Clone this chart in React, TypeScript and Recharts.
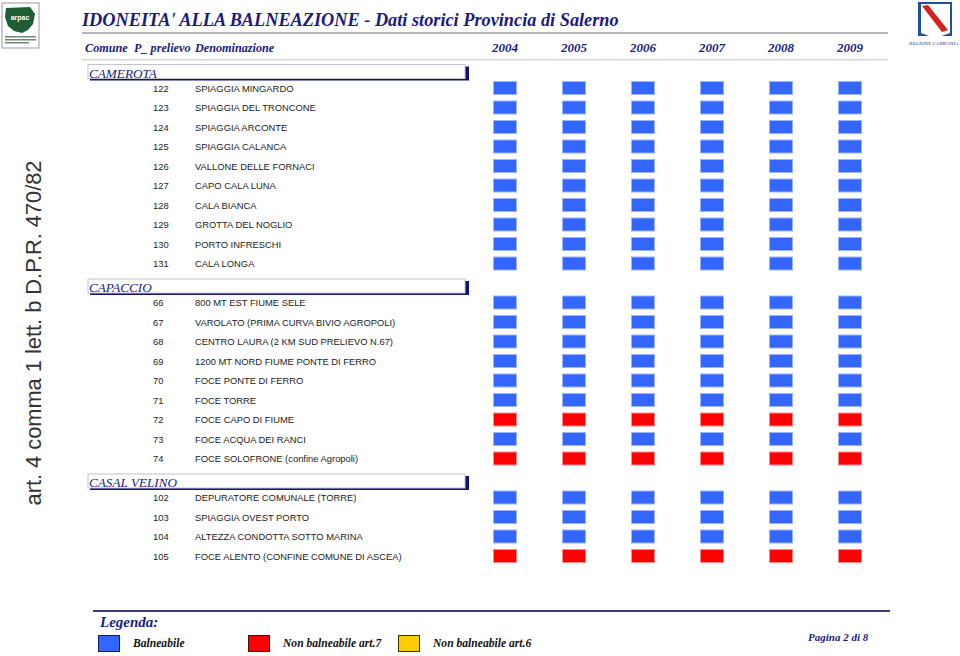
import React from 'react';
import { ScatterChart, Scatter, XAxis, YAxis, Legend } from 'recharts';

const years = ['2004', '2005', '2006', '2007', '2008', '2009'];

const comuni = ['CAMEROTA', 'CAPACCIO', 'CASAL VELINO'];

const stationComune = [
  'CAMEROTA', 'CAMEROTA', 'CAMEROTA', 'CAMEROTA', 'CAMEROTA',
  'CAMEROTA', 'CAMEROTA', 'CAMEROTA', 'CAMEROTA', 'CAMEROTA',
  'CAPACCIO', 'CAPACCIO', 'CAPACCIO', 'CAPACCIO', 'CAPACCIO',
  'CAPACCIO', 'CAPACCIO', 'CAPACCIO', 'CAPACCIO',
  'CASAL VELINO', 'CASAL VELINO', 'CASAL VELINO', 'CASAL VELINO',
];

const stationCodes = [
  122, 123, 124, 125, 126, 127, 128, 129, 130, 131,
  66, 67, 68, 69, 70, 71, 72, 73, 74,
  102, 103, 104, 105,
];

const stationNames = [
  'SPIAGGIA MINGARDO',
  'SPIAGGIA DEL TRONCONE',
  'SPIAGGIA ARCONTE',
  'SPIAGGIA CALANCA',
  'VALLONE DELLE FORNACI',
  'CAPO CALA LUNA',
  'CALA BIANCA',
  'GROTTA DEL NOGLIO',
  'PORTO INFRESCHI',
  'CALA LONGA',
  '800 MT EST FIUME SELE',
  'VAROLATO (PRIMA CURVA BIVIO AGROPOLI)',
  'CENTRO LAURA (2 KM SUD PRELIEVO N.67)',
  '1200 MT NORD FIUME PONTE DI FERRO',
  'FOCE PONTE DI FERRO',
  'FOCE TORRE',
  'FOCE CAPO DI FIUME',
  'FOCE ACQUA DEI RANCI',
  'FOCE SOLOFRONE (confine Agropoli)',
  'DEPURATORE COMUNALE (TORRE)',
  'SPIAGGIA OVEST PORTO',
  'ALTEZZA CONDOTTA SOTTO MARINA',
  'FOCE ALENTO (CONFINE COMUNE DI ASCEA)',
];

// B = balneabile, R = non balneabile art.7, Y = non balneabile art.6
const status2004 = ['B','B','B','B','B','B','B','B','B','B','B','B','B','B','B','B','R','B','R','B','B','B','R'];
const status2005 = ['B','B','B','B','B','B','B','B','B','B','B','B','B','B','B','B','R','B','R','B','B','B','R'];
const status2006 = ['B','B','B','B','B','B','B','B','B','B','B','B','B','B','B','B','R','B','R','B','B','B','R'];
const status2007 = ['B','B','B','B','B','B','B','B','B','B','B','B','B','B','B','B','R','B','R','B','B','B','R'];
const status2008 = ['B','B','B','B','B','B','B','B','B','B','B','B','B','B','B','B','R','B','R','B','B','B','R'];
const status2009 = ['B','B','B','B','B','B','B','B','B','B','B','B','B','B','B','B','R','B','R','B','B','B','R'];

const statusByYear = [status2004, status2005, status2006, status2007, status2008, status2009];

const legendNames = ['Balneabile', 'Non balneabile art.7', 'Non balneabile art.6'];
const statusKeys = ['B', 'R', 'Y'];

const COLORS: Record<string, { fill: string; stroke: string; legendStroke: string }> = {
  B: { fill: '#3366FF', stroke: '#9DB4FF', legendStroke: '#1a1a60' },
  R: { fill: '#FF0000', stroke: '#FF8A8A', legendStroke: '#401010' },
  Y: { fill: '#FFCC00', stroke: '#FFE27A', legendStroke: '#403000' },
};

const SERIF = '"Liberation Serif", "Times New Roman", serif';
const SANS = '"Liberation Sans", Arial, sans-serif';
const NAVY = '#1b1b7e';

// slot layout: header row per comune followed by its stations
type Slot = { slot: number; kind: 'header' | 'row'; label: string; code?: number; station?: number };
const slots: Slot[] = [];
comuni.forEach((c) => {
  slots.push({ slot: slots.length, kind: 'header', label: c });
  stationComune.forEach((sc, i) => {
    if (sc === c) slots.push({ slot: slots.length, kind: 'row', label: stationNames[i], code: stationCodes[i], station: i });
  });
});
const slotOfStation: number[] = [];
slots.forEach((s) => { if (s.kind === 'row') slotOfStation[s.station as number] = s.slot; });

const points = statusByYear.flatMap((arr, yi) =>
  arr.map((st, si) => ({ x: yi, y: slotOfStation[si], status: st }))
);

const RectShape = (props: any) => {
  const { cx, cy, payload } = props;
  const c = COLORS[payload.status];
  return (
    <rect x={cx - 11.5} y={cy - 6.5} width={23} height={13} fill={c.fill} stroke={c.stroke} strokeWidth={1} />
  );
};

const YearTick = (props: any) => {
  const { x, payload } = props;
  return (
    <text x={x} y={52} textAnchor="middle" fontFamily={SERIF} fontSize={13} fontWeight="bold" fontStyle="italic" fill={NAVY}>
      {years[payload.value]}
    </text>
  );
};

const RowTick = (props: any) => {
  const { y, payload } = props;
  const s = slots[payload.value];
  if (!s) return null;
  if (s.kind === 'header') {
    const top = y - 4;
    return (
      <g>
        <rect x={90} y={top + 2} width={379} height={14} fill="#14146e" />
        <rect x={88} y={top} width={377} height={14} fill="#fff" stroke="#c4c4cc" strokeWidth={1} />
        <text x={89} y={top + 13} fontFamily={SERIF} fontSize={13.2} fontStyle="italic" fill={NAVY}>
          {s.label}
        </text>
      </g>
    );
  }
  return (
    <g>
      <text x={153} y={y + 3.5} fontFamily={SANS} fontSize={9.4} fill="#222">{s.code}</text>
      <text x={195} y={y + 3.5} fontFamily={SANS} fontSize={9.4} fill="#222">{s.label}</text>
    </g>
  );
};

const legendX = [98, 248, 398];

const renderLegend = () => (
  <div style={{ position: 'relative', width: 960, height: 56 }}>
    <div style={{ position: 'absolute', left: 93, top: 10, width: 797, height: 2, background: '#3a3a82' }} />
    <div style={{ position: 'absolute', left: 100, top: 14, fontFamily: SERIF, fontSize: 15, fontWeight: 'bold', fontStyle: 'italic', color: NAVY }}>
      Legenda:
    </div>
    {legendNames.map((n, i) => {
      const c = COLORS[statusKeys[i]];
      return (
        <div key={n}>
          <div style={{ position: 'absolute', left: legendX[i], top: 35, width: 20, height: 15, background: c.fill, border: `1px solid ${c.legendStroke}` }} />
          <div style={{ position: 'absolute', left: legendX[i] + 35, top: 37, fontFamily: SERIF, fontSize: 11.6, fontWeight: 'bold', fontStyle: 'italic', color: '#111', whiteSpace: 'nowrap' }}>
            {n}
          </div>
        </div>
      );
    })}
  </div>
);

const Decor = () => (
  <svg width={960} height={656} style={{ position: 'absolute', left: 0, top: 0 }}>
    {/* arpac logo */}
    <rect x={2} y={3} width={37} height={45} fill="#fff" stroke="#9a9a9a" />
    <path d="M6 8 L30 7 L35 14 L33 24 L28 30 L22 33 L14 31 L8 26 L5 17 Z" fill="#1f5d34" />
    <text x={20} y={20} textAnchor="middle" fontFamily={SANS} fontSize={7} fontWeight="bold" fill="#fff">arpac</text>
    <rect x={5} y={36} width={31} height={1.5} fill="#6a8a72" />
    <rect x={5} y={39} width={31} height={1.5} fill="#6a8a72" />
    <rect x={5} y={42} width={24} height={1.5} fill="#6a8a72" />

    {/* Regione Campania logo */}
    <rect x={918} y={2} width={34} height={34} fill="#1f4f9f" />
    <path d="M921 4 L950 4 L950 33 Q935 40 921 33 Z" fill="#fff" />
    <path d="M922 6 L928 5 L948 30 L942 32 Z" fill="#d62020" />
    <text x={934} y={45} textAnchor="middle" fontFamily={SERIF} fontSize={5} fill="#1f3f8f">REGIONE CAMPANIA</text>

    <text x={82} y={26} fontFamily={SERIF} fontSize={18.3} fontWeight="bold" fontStyle="italic" fill={NAVY}>
      IDONEITA' ALLA BALNEAZIONE - Dati storici Provincia di Salerno
    </text>
    <rect x={82} y={32} width={806} height={2} fill="#b8b8b8" />
    <text x={85} y={52} fontFamily={SERIF} fontSize={12.2} fontWeight="bold" fontStyle="italic" fill={NAVY}>Comune</text>
    <text x={134} y={52} fontFamily={SERIF} fontSize={12.2} fontWeight="bold" fontStyle="italic" fill={NAVY}>P_ prelievo</text>
    <text x={195} y={52} fontFamily={SERIF} fontSize={12.2} fontWeight="bold" fontStyle="italic" fill={NAVY}>Denominazione</text>
    <rect x={82} y={59} width={806} height={1.5} fill="#d8d8d8" />

    <text
      transform="translate(41,333) rotate(-90)"
      textAnchor="middle"
      fontFamily={SANS}
      fontSize={22}
      fill="#333"
      textLength={345}
      lengthAdjust="spacingAndGlyphs"
    >
      art. 4 comma 1 lett. b D.P.R. 470/82
    </text>

    <text x={808} y={641} fontFamily={SERIF} fontSize={11} fontWeight="bold" fontStyle="italic" fill={NAVY}>Pagina 2 di 8</text>
  </svg>
);

export default function App() {
  return (
    <div style={{ position: 'absolute', left: 0, top: 0, width: 960, height: 656, background: '#fff' }}>
      <Decor />
      <div style={{ position: 'absolute', left: 0, top: 0 }}>
        <ScatterChart width={960} height={656} margin={{ top: 38.75, right: 75.5, bottom: 90.25, left: 0 }}>
          <XAxis
            type="number"
            dataKey="x"
            orientation="top"
            domain={[-0.5, 5.5]}
            ticks={[0, 1, 2, 3, 4, 5]}
            interval={0}
            height={20}
            axisLine={false}
            tickLine={false}
            tick={<YearTick />}
          />
          <YAxis
            type="number"
            dataKey="y"
            reversed
            domain={[-0.5, slots.length - 0.5]}
            ticks={slots.map((s) => s.slot)}
            interval={0}
            width={470.5}
            axisLine={false}
            tickLine={false}
            tick={<RowTick />}
          />
          {statusKeys.map((k, i) => (
            <Scatter
              key={k}
              name={legendNames[i]}
              data={points.filter((p) => p.status === k)}
              fill={COLORS[k].fill}
              shape={<RectShape />}
              isAnimationActive={false}
            />
          ))}
          <Legend
            layout="horizontal"
            verticalAlign="middle"
            align="center"
            content={renderLegend}
            wrapperStyle={{ left: 0, top: 600, width: 960, height: 56 }}
          />
        </ScatterChart>
      </div>
    </div>
  );
}
